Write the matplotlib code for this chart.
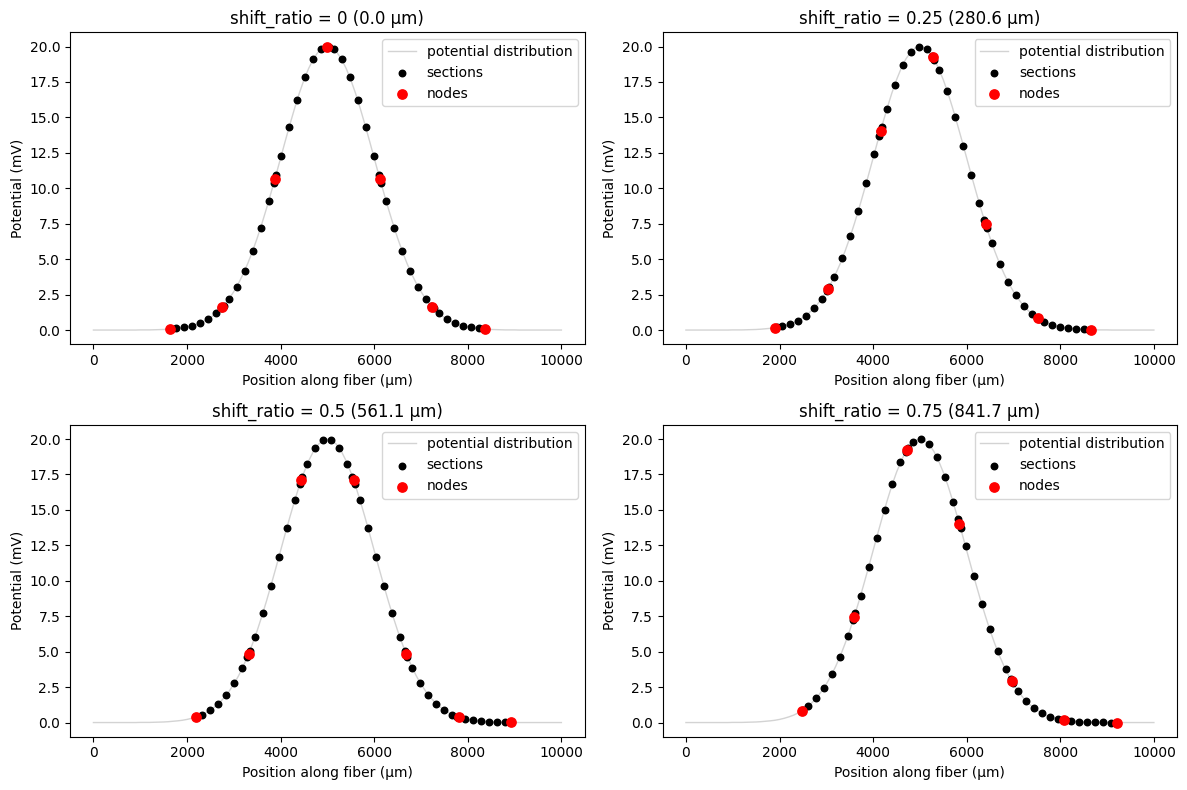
import matplotlib
matplotlib.use('Agg')
import matplotlib.pyplot as plt

# ---------------- data ----------------
titles = ["shift_ratio = 0 (0.0 µm)", "shift_ratio = 0.25 (280.6 µm)",
          "shift_ratio = 0.5 (561.1 µm)", "shift_ratio = 0.75 (841.7 µm)"]

curve_x = [0, 100, 200, 300, 400, 500, 600, 700, 800, 900,
           1000, 1100, 1200, 1300, 1400, 1500, 1600, 1700, 1800, 1900,
           2000, 2100, 2200, 2300, 2400, 2500, 2600, 2700, 2800, 2900,
           3000, 3100, 3200, 3300, 3400, 3500, 3600, 3700, 3800, 3900,
           4000, 4100, 4200, 4300, 4400, 4500, 4600, 4700, 4800, 4900,
           5000, 5100, 5200, 5300, 5400, 5500, 5600, 5700, 5800, 5900,
           6000, 6100, 6200, 6300, 6400, 6500, 6600, 6700, 6800, 6900,
           7000, 7100, 7200, 7300, 7400, 7500, 7600, 7700, 7800, 7900,
           8000, 8100, 8200, 8300, 8400, 8500, 8600, 8700, 8800, 8900,
           9000, 9100, 9200, 9300, 9400, 9500, 9600, 9700, 9800, 9900,
           10000]
curve_y = [0.00, 0.00, 0.00, 0.00, 0.00, 0.00, 0.00, 0.00, 0.00, 0.00,
           0.01, 0.01, 0.01, 0.02, 0.03, 0.04, 0.06, 0.09, 0.12, 0.16,
           0.22, 0.30, 0.40, 0.52, 0.68, 0.88, 1.12, 1.42, 1.78, 2.21,
           2.71, 3.29, 3.96, 4.71, 5.56, 6.49, 7.51, 8.59, 9.74, 10.92,
           12.13, 13.34, 14.52, 15.65, 16.71, 17.65, 18.46, 19.12, 19.60, 19.90,
           20.00, 19.90, 19.60, 19.12, 18.46, 17.65, 16.71, 15.65, 14.52, 13.34,
           12.13, 10.92, 9.74, 8.59, 7.51, 6.49, 5.56, 4.71, 3.96, 3.29,
           2.71, 2.21, 1.78, 1.42, 1.12, 0.88, 0.68, 0.52, 0.40, 0.30,
           0.22, 0.16, 0.12, 0.09, 0.06, 0.04, 0.03, 0.02, 0.01, 0.01,
           0.01, 0.00, 0.00, 0.00, 0.00, 0.00, 0.00, 0.00, 0.00, 0.00,
           0.00]

# panel 1: shift_ratio = 0
sec_x_0 = [1635, 1659, 1768, 1938, 2109, 2279, 2450, 2621, 2729, 2753,
           2757, 2782, 2890, 3061, 3231, 3402, 3572, 3743, 3851, 3876,
           3880, 3904, 4012, 4183, 4354, 4524, 4695, 4865, 4974, 4998,
           5002, 5027, 5135, 5305, 5476, 5647, 5817, 5988, 6096, 6120,
           6124, 6149, 6257, 6428, 6598, 6769, 6940, 7110, 7218, 7243,
           7247, 7271, 7380, 7550, 7721, 7891, 8062, 8233, 8341, 8365]
sec_y_0 = [0.07, 0.08, 0.11, 0.18, 0.31, 0.49, 0.77, 1.18, 1.52, 1.60,
           1.62, 1.71, 2.16, 3.05, 4.18, 5.58, 7.22, 9.08, 10.34, 10.63,
           10.68, 10.97, 12.28, 14.32, 16.23, 17.86, 19.09, 19.82, 19.99, 20.00,
           20.00, 19.99, 19.82, 19.09, 17.86, 16.23, 14.32, 12.28, 10.97, 10.68,
           10.63, 10.34, 9.07, 7.22, 5.57, 4.18, 3.05, 2.16, 1.71, 1.62,
           1.60, 1.52, 1.18, 0.77, 0.49, 0.31, 0.18, 0.11, 0.08, 0.07]
node_x_0 = [1632.8, 2755.2, 3877.6, 5000.0, 6122.4, 7244.8, 8367.2]
node_y_0 = [0.07, 1.61, 10.65, 20.00, 10.65, 1.61, 0.07]

# panel 2: shift_ratio = 0.25
sec_x_1 = [1915, 1940, 2048, 2219, 2389, 2560, 2731, 2901, 3009, 3034,
           3038, 3062, 3171, 3341, 3512, 3682, 3853, 4024, 4132, 4156,
           4160, 4185, 4293, 4464, 4634, 4805, 4975, 5146, 5254, 5279,
           5283, 5307, 5415, 5586, 5757, 5927, 6098, 6268, 6376, 6401,
           6405, 6430, 6538, 6708, 6879, 7050, 7220, 7391, 7499, 7523,
           7527, 7552, 7660, 7831, 8001, 8172, 8343, 8513, 8621, 8646]
sec_y_1 = [0.17, 0.19, 0.26, 0.42, 0.66, 1.02, 1.52, 2.21, 2.76, 2.89,
           2.92, 3.06, 3.75, 5.05, 6.61, 8.40, 10.36, 12.42, 13.72, 14.01,
           14.06, 14.34, 15.58, 17.32, 18.71, 19.62, 19.99, 19.79, 19.36, 19.24,
           19.22, 19.08, 18.35, 16.84, 15.02, 13.01, 10.95, 8.95, 7.76, 7.50,
           7.45, 7.20, 6.13, 4.65, 3.42, 2.45, 1.70, 1.15, 0.88, 0.83,
           0.82, 0.77, 0.58, 0.36, 0.22, 0.13, 0.07, 0.04, 0.03, 0.03]
node_x_1 = [1913.4, 3035.8, 4158.2, 5280.6, 6403.0, 7525.4, 8647.8]
node_y_1 = [0.17, 2.91, 14.03, 19.23, 7.47, 0.82, 0.03]

# panel 3: shift_ratio = 0.5
sec_x_2 = [2196, 2220, 2329, 2499, 2670, 2840, 3011, 3182, 3290, 3314,
           3318, 3343, 3451, 3622, 3792, 3963, 4134, 4304, 4412, 4437,
           4441, 4465, 4574, 4744, 4915, 5085, 5256, 5427, 5535, 5559,
           5563, 5588, 5696, 5866, 6037, 6208, 6378, 6549, 6657, 6682,
           6686, 6710, 6818, 6989, 7160, 7330, 7501, 7671, 7779, 7804,
           7808, 7832, 7941, 8111, 8282, 8452, 8623, 8794, 8902, 8926]
sec_y_2 = [0.39, 0.42, 0.56, 0.88, 1.32, 1.94, 2.77, 3.83, 4.63, 4.83,
           4.86, 5.07, 6.03, 7.74, 9.65, 11.68, 13.74, 15.70, 16.83, 17.07,
           17.10, 17.33, 18.26, 19.36, 19.93, 19.93, 19.36, 18.26, 17.34, 17.11,
           17.07, 16.83, 15.70, 13.74, 11.68, 9.65, 7.74, 6.03, 5.07, 4.86,
           4.83, 4.64, 3.83, 2.77, 1.94, 1.32, 0.88, 0.56, 0.42, 0.39,
           0.39, 0.36, 0.26, 0.16, 0.09, 0.05, 0.03, 0.01, 0.01, 0.01]
node_x_2 = [2193.9, 3316.3, 4438.7, 5561.1, 6683.5, 7805.9, 8928.3]
node_y_2 = [0.39, 4.85, 17.09, 17.09, 4.85, 0.39, 0.01]

# panel 4: shift_ratio = 0.75
sec_x_3 = [2476, 2501, 2609, 2780, 2950, 3121, 3292, 3462, 3570, 3595,
           3599, 3623, 3732, 3902, 4073, 4244, 4414, 4585, 4693, 4717,
           4721, 4746, 4854, 5025, 5195, 5366, 5536, 5707, 5815, 5840,
           5844, 5868, 5976, 6147, 6318, 6488, 6659, 6830, 6938, 6962,
           6966, 6991, 7099, 7270, 7440, 7611, 7781, 7952, 8060, 8084,
           8088, 8113, 8221, 8392, 8562, 8733, 8904, 9074, 9182, 9207]
sec_y_3 = [0.83, 0.88, 1.15, 1.70, 2.45, 3.42, 4.65, 6.13, 7.20, 7.45,
           7.49, 7.75, 8.95, 10.95, 13.01, 15.02, 16.85, 18.35, 19.08, 19.22,
           19.24, 19.36, 19.79, 19.99, 19.62, 18.71, 17.32, 15.58, 14.35, 14.06,
           14.01, 13.72, 12.42, 10.36, 8.39, 6.61, 5.05, 3.75, 3.06, 2.92,
           2.89, 2.76, 2.21, 1.52, 1.02, 0.66, 0.42, 0.26, 0.19, 0.17,
           0.17, 0.16, 0.11, 0.06, 0.04, 0.02, 0.01, 0.00, 0.00, 0.00]
node_x_3 = [2474.5, 3596.9, 4719.3, 5841.7, 6964.1, 8086.5, 9208.9]
node_y_3 = [0.82, 7.47, 19.23, 14.03, 2.91, 0.17, 0.00]

sections_x = [sec_x_0, sec_x_1, sec_x_2, sec_x_3]
sections_y = [sec_y_0, sec_y_1, sec_y_2, sec_y_3]
nodes_x = [node_x_0, node_x_1, node_x_2, node_x_3]
nodes_y = [node_y_0, node_y_1, node_y_2, node_y_3]

# ---------------- plotting ----------------
fig, axes = plt.subplots(2, 2, figsize=(12, 8), dpi=100)
for i, ax in enumerate(axes.flat):
    ax.plot(curve_x, curve_y, color='lightgray', lw=1,
            label='potential distribution')
    ax.scatter(sections_x[i], sections_y[i], s=22, color='black',
               label='sections', zorder=3)
    ax.scatter(nodes_x[i], nodes_y[i], s=45, color='red',
               label='nodes', zorder=4)
    ax.set_title(titles[i])
    ax.set_xlabel('Position along fiber (µm)')
    ax.set_ylabel('Potential (mV)')
    ax.legend(loc='upper right')
fig.tight_layout()
fig.savefig('out.png', bbox_inches='tight')
